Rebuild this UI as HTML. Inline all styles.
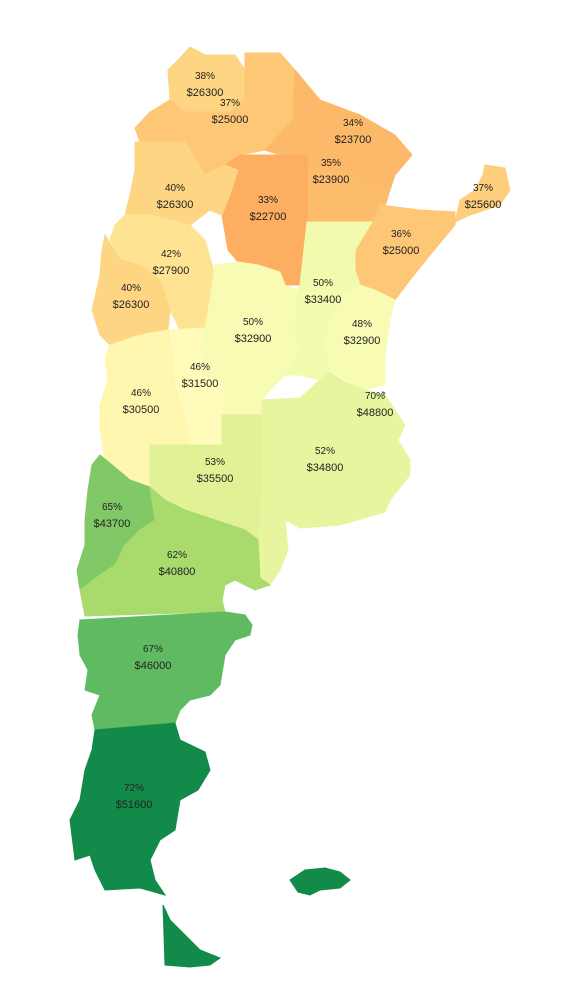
<!DOCTYPE html>
<html><head><meta charset="utf-8"><style>
html,body{margin:0;padding:0;background:#fff}
svg{display:block}
text{font-family:"Liberation Sans",sans-serif;fill:#222;text-anchor:middle}
</style></head><body>
<svg id="map" width="576" height="1008" viewBox="0 0 576 1008"></svg>
<script>
const provinces=["Jujuy","Salta","Formosa","Chaco","Santiago del Estero","Misiones","Corrientes","Catamarca","Tucuman","La Rioja","San Juan","Cordoba","Santa Fe","Entre Rios","San Luis","Mendoza","Buenos Aires","CABA","La Pampa","Neuquen","Rio Negro","Chubut","Santa Cruz","Tierra del Fuego","Malvinas"];
const pcts=[38,37,34,35,33,37,36,40,40,42,40,50,50,48,46,46,52,70,53,65,62,67,72,72,72];
const incomes=[26300,25000,23700,23900,22700,25600,25000,26300,26300,27900,26300,32900,33400,32900,31500,30500,34800,48800,35500,43700,40800,46000,51600,51600,51600];
const showLabel=[1,1,1,1,1,1,1,1,0,1,1,1,1,1,1,1,1,1,1,1,1,1,1,0,0];
const shapes=[
"190,47 205,55 235,55 245,70 245,100 230,112 185,112 170,100 168,70 180,58",
"245,53 280,53 295,70 293,120 265,150 240,155 225,165 205,175 190,150 185,142 140,142 135,128 150,112 170,100 185,112 230,112 245,100",
"295,70 320,100 360,115 395,135 412,155 395,175 390,190 265,150 293,120",
"265,150 390,190 380,222 307,222 308,155",
"240,155 308,155 307,222 300,285 285,285 280,272 258,265 238,262 228,250 222,215 225,190 225,165",
"485,165 505,168 510,190 500,205 470,215 455,222 460,200 475,190 483,175",
"380,205 420,210 455,212 455,225 430,255 410,280 395,300 375,290 360,285 355,270 355,250 372,222",
"135,142 185,142 205,175 225,170 222,215 210,210 190,225 175,220 150,215 125,215 130,195 135,170",
"205,175 225,165 238,170 230,195 222,215 210,210",
"125,215 150,215 190,225 205,240 215,275 210,300 205,328 180,330 170,310 160,280 140,265 120,260 110,240 115,225",
"105,235 120,260 140,265 160,280 170,310 168,330 140,335 110,345 100,335 92,310 100,275 102,250",
"215,265 238,262 258,265 280,272 285,285 298,290 295,330 300,350 285,375 270,390 262,400 262,415 222,415 222,385 205,375 200,345 205,328 210,300",
"307,222 372,222 355,250 355,270 360,285 345,295 330,320 325,345 330,370 320,380 300,375 285,375 300,350 295,330 298,290 300,285",
"345,295 360,285 375,290 395,300 390,320 385,355 385,385 365,390 345,380 330,370 325,345 330,320",
"168,330 205,328 200,345 205,375 222,385 222,445 190,445 185,420 175,385 172,350",
"110,345 140,335 168,330 172,350 175,385 185,420 190,445 150,445 150,485 130,480 105,460 100,430 100,405 108,380 105,360",
"262,400 300,398 320,380 330,372 345,382 365,390 385,395 405,425 398,440 410,460 410,475 390,500 385,512 340,525 300,528 285,520 288,550 280,570 270,585 260,580 258,525 262,470 262,415",
"383,392 385,393 384,394",
"150,445 222,445 222,415 262,415 262,470 258,540 245,530 215,520 185,510 165,500 155,490 150,485",
"100,455 130,480 150,487 155,520 140,530 125,545 115,565 100,575 80,590 77,570 85,545 85,520 88,490 92,465",
"150,487 165,500 185,510 215,520 245,530 258,540 260,578 270,585 255,590 235,580 225,585 222,600 225,612 150,614 85,616 80,590 100,575 115,565 125,545 140,530 155,520",
"80,620 225,612 245,615 252,625 250,635 235,640 225,655 220,685 210,695 190,700 180,710 175,723 95,730 92,715 100,695 85,690 88,670 80,655 78,635",
"95,730 175,723 180,740 205,752 210,770 198,790 180,800 175,830 160,840 150,860 155,880 165,895 140,888 105,890 95,870 90,855 75,860 70,820 80,800 85,770 92,750",
"163,905 170,920 185,935 200,950 220,958 210,965 190,967 165,965",
"290,880 305,870 325,868 340,872 350,880 340,888 320,890 310,895 298,892"
];
const labelPos=[[205,79],[230,106],[353,126],[331,166],[268,203],[483,191],[401,237],[175,191],[0,0],[171,257],[131,291],[253,325],[323,286],[362,327],[200,370],[141,396],[325,454],[375,399],[215,465],[112,510],[177,558],[153,652],[134,791],[0,0],[0,0]];
const stops=["#a50026","#d73027","#f46d43","#fdae61","#fee08b","#ffffbf","#d9ef8b","#a6d96a","#66bd63","#1a9850","#006837"];
function hex(h){return [1,3,5].map(i=>parseInt(h.substr(i,2),16));}
function color(v){
  let t=0.3+(v-22700)/(51600-22700)*0.63;
  t=Math.max(0,Math.min(1,t))*10;
  const i=Math.min(9,Math.floor(t)),f=t-i;
  const a=hex(stops[i]),b=hex(stops[i+1]);
  return "rgb("+a.map((x,k)=>Math.round(x+(b[k]-x)*f)).join(",")+")";
}
const svg=document.getElementById('map');
const NS="http://www.w3.org/2000/svg";
provinces.forEach((p,i)=>{
  const poly=document.createElementNS(NS,'polygon');
  poly.setAttribute('points',shapes[i]);
  poly.setAttribute('fill',color(incomes[i]));
  poly.setAttribute('stroke',color(incomes[i]));
  poly.setAttribute('stroke-width','1');
  
  
  svg.appendChild(poly);
});
provinces.forEach((p,i)=>{
  if(!showLabel[i])return;
  const [x,y]=labelPos[i];
  const t1=document.createElementNS(NS,'text');
  t1.setAttribute('x',x);t1.setAttribute('y',y);t1.setAttribute('font-size','10');
  t1.textContent=pcts[i]+'%';
  
  
  svg.appendChild(t1);
  const t2=document.createElementNS(NS,'text');
  t2.setAttribute('x',x);t2.setAttribute('y',y+17);t2.setAttribute('font-size','11');
  t2.textContent='$'+incomes[i];
  
  
  svg.appendChild(t2);
});
</script>
</body></html>
